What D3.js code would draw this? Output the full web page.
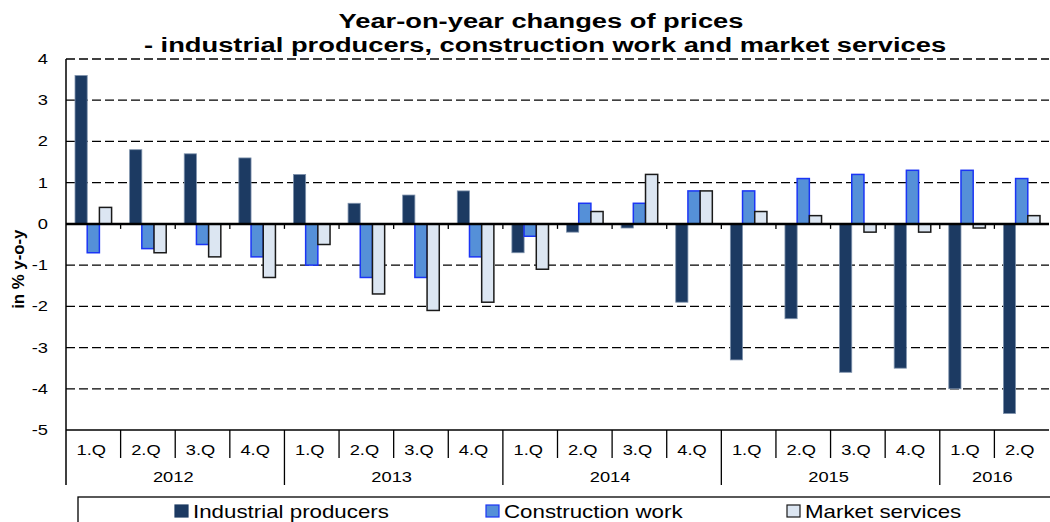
<!DOCTYPE html>
<html>
<head>
<meta charset="utf-8">
<script src="https://cdn.jsdelivr.net/npm/d3@7"></script>
<style>
  body { margin: 0; background: #fff; }
  text { font-family: "Liberation Sans", Arial, sans-serif; }
</style>
</head>
<body>
<svg></svg>
<script>
const svgWidth = 1050
const svgHeight = 522
const margins = { top: 59, left: 66, right: 1, bottom: 92 }
const plotWidth = svgWidth - margins.left - margins.right
const plotHeight = svgHeight - margins.top - margins.bottom

const years = ["2012", "2013", "2014", "2015", "2016"]
const quarters = [
  "1.Q", "2.Q", "3.Q", "4.Q", "1.Q", "2.Q", "3.Q", "4.Q", "1.Q",
  "2.Q", "3.Q", "4.Q", "1.Q", "2.Q", "3.Q", "4.Q", "1.Q", "2.Q"
]
const quarterYears = [
  "2012", "2012", "2012", "2012", "2013", "2013", "2013", "2013", "2014",
  "2014", "2014", "2014", "2015", "2015", "2015", "2015", "2016", "2016"
]
const seriesNames = ["Industrial producers", "Construction work", "Market services"]
const industrial = [3.6, 1.8, 1.7, 1.6, 1.2, 0.5, 0.7, 0.8, -0.7, -0.2, -0.1, -1.9, -3.3, -2.3, -3.6, -3.5, -4.0, -4.6]
const construction = [-0.7, -0.6, -0.5, -0.8, -1.0, -1.3, -1.3, -0.8, -0.3, 0.5, 0.5, 0.8, 0.8, 1.1, 1.2, 1.3, 1.3, 1.1]
const services = [0.4, -0.7, -0.8, -1.3, -0.5, -1.7, -2.1, -1.9, -1.1, 0.3, 1.2, 0.8, 0.3, 0.2, -0.2, -0.2, -0.1, 0.2]
const yTicks = [4, 3, 2, 1, 0, -1, -2, -3, -4, -5]

const fills = ["#1c3a62", "#5590d8", "#dce6f2"]
const strokes = ["#7f93ad", "#1b35f5", "#1a1a1a"]

// the original text is drawn a bit wider than the font
const stretch = 1.22

const svg = d3.select("svg")
  .attr("width", svgWidth)
  .attr("height", svgHeight)

function wideText(parent, str, x, y, size, sx, anchor, bold) {
  return parent.append("text")
    .text(str)
    .attr("transform", `translate(${x},${y}) scale(${sx},1)`)
    .attr("text-anchor", anchor)
    .attr("font-size", size)
    .attr("font-weight", bold ? "bold" : "normal")
}

wideText(svg, "Year-on-year changes of prices", 541, 28, 21, 1.3, "middle", true)
wideText(svg, "- industrial producers, construction work and market services", 545, 52, 21, 1.3, "middle", true)

const keys = d3.range(quarters.length)
const xScale = d3.scaleBand()
  .domain(keys)
  .range([0, plotWidth])
const inner = d3.scaleBand()
  .domain([0, 1, 2])
  .range([xScale.bandwidth() * 0.165, xScale.bandwidth() * 0.835])
const yScale = d3.scaleLinear()
  .domain([-5, 4])
  .range([plotHeight, 0])

const plot = svg.append("g")
  .attr("transform", `translate(${margins.left},${margins.top})`)

// gridlines
plot.selectAll(".grid")
  .data(yTicks.filter(d => d !== 0 && d !== -5))
  .enter()
  .append("line")
  .attr("x1", 0).attr("x2", plotWidth)
  .attr("y1", d => yScale(d)).attr("y2", d => yScale(d))
  .attr("stroke", "#000")
  .attr("stroke-width", 1.3)
  .attr("stroke-dasharray", "9,4")

// y labels
yTicks.forEach(d => {
  wideText(plot, d, -18, yScale(d) + 5, 15, stretch, "end", false)
})

svg.append("text")
  .text("in % y-o-y")
  .attr("transform", `translate(24,${margins.top + yScale(-1.1)}) rotate(-90) scale(1.05,1)`)
  .attr("text-anchor", "middle")
  .attr("font-size", 16).attr("font-weight", "bold")

// bars
const allSeries = [industrial, construction, services]
allSeries.forEach((data, s) => {
  plot.selectAll(`.bar-${s}`)
    .data(data)
    .enter()
    .append("rect")
    .attr("x", (d, i) => xScale(i) + inner(s))
    .attr("width", inner.bandwidth())
    .attr("y", d => yScale(Math.max(0, d)))
    .attr("height", d => Math.abs(yScale(d) - yScale(0)))
    .attr("fill", fills[s])
    .attr("stroke", strokes[s])
    .attr("stroke-width", s === 0 ? 0.8 : 1.5)
})

// zero line with ticks
plot.append("line")
  .attr("x1", 0).attr("x2", plotWidth)
  .attr("y1", yScale(0)).attr("y2", yScale(0))
  .attr("stroke", "#000").attr("stroke-width", 2.5)
plot.selectAll(".ztick")
  .data(keys.slice(1))
  .enter()
  .append("line")
  .attr("x1", d => xScale(d)).attr("x2", d => xScale(d))
  .attr("y1", yScale(0)).attr("y2", yScale(0) + 5)
  .attr("stroke", "#000").attr("stroke-width", 1.3)

// bottom category axis
const base = yScale(-5)
plot.append("line")
  .attr("x1", 0).attr("x2", plotWidth)
  .attr("y1", base).attr("y2", base)
  .attr("stroke", "#000").attr("stroke-width", 1.3)
plot.append("line")
  .attr("x1", 0).attr("x2", 0)
  .attr("y1", 0).attr("y2", base + 55)
  .attr("stroke", "#000").attr("stroke-width", 1.5)

plot.selectAll(".qsep")
  .data(keys.slice(1))
  .enter()
  .append("line")
  .attr("x1", d => xScale(d)).attr("x2", d => xScale(d))
  .attr("y1", base)
  .attr("y2", d => quarterYears[d] !== quarterYears[d - 1] ? base + 55 : base + 28)
  .attr("stroke", "#000").attr("stroke-width", 1.3)

quarters.forEach((q, i) => {
  wideText(plot, q, xScale(i) + xScale.bandwidth() / 2 - 2, base + 25, 15, stretch, "middle", false)
})

years.forEach(y => {
  const idx = keys.filter(i => quarterYears[i] === y)
  const cx = (xScale(idx[0]) + xScale(idx[idx.length - 1]) + xScale.bandwidth()) / 2
  wideText(plot, y, cx - 2, base + 52, 15, stretch, "middle", false)
})

// legend
svg.append("rect")
  .attr("x", 78).attr("y", 497)
  .attr("width", 990).attr("height", 40)
  .attr("fill", "none").attr("stroke", "#000").attr("stroke-width", 1.3)
const legend = svg.append("g")
const legendX = [175, 486, 787]
legend.selectAll(".lrect")
  .data(seriesNames)
  .enter()
  .append("rect")
  .attr("x", (d, i) => legendX[i])
  .attr("y", 505)
  .attr("width", 13).attr("height", 12)
  .attr("fill", (d, i) => fills[i])
  .attr("stroke", (d, i) => i === 0 ? fills[0] : strokes[i])
  .attr("stroke-width", 1.2)
seriesNames.forEach((name, i) => {
  wideText(legend, name, legendX[i] + 18, 518, 18, 1.24, "start", false)
})
</script>
</body>
</html>
